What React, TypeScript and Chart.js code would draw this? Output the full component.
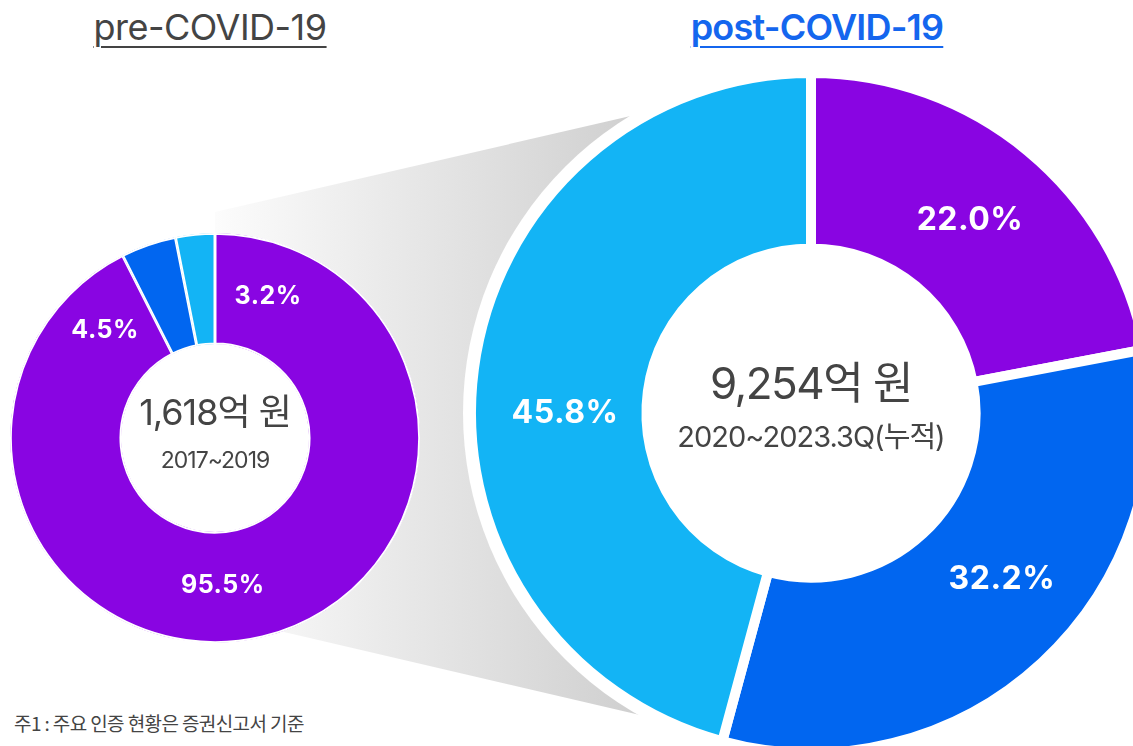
import React, { useEffect, useRef } from "react";
import { Chart, registerables } from "chart.js";

Chart.register(...registerables);

// ---- data ----
const sliceNames = ["구분 A", "구분 B", "구분 C"];
const preValues = [95.5, 4.5, 3.2];
const postValues = [22.0, 32.2, 45.8];
const sliceColors = ["#8905E2", "#0166F0", "#13B4F5"];

const preTitle = "pre-COVID-19";
const postTitle = "post-COVID-19";
const preCenter = ["1,618억 원", "2017~2019"];
const postCenter = ["9,254억 원", "2020~2023.3Q(누적)"];
const footnote = "주1 : 주요 인증 현황은 증권신고서 기준";

const FONT = "Inter, 'Noto Sans CJK KR', 'Noto Sans', sans-serif";
const KFONT = "'Noto Sans CJK KR', 'Noto Sans', sans-serif";

const sliceLabelPlugin = {
  id: "sliceLabels",
  afterDatasetsDraw(chart: any, _args: any, opts: any) {
    const meta = chart.getDatasetMeta(0);
    const ds = chart.data.datasets[0];
    const ctx = chart.ctx as CanvasRenderingContext2D;
    ctx.save();
    ctx.fillStyle = opts.color || "#fff";
    ctx.font = opts.font;
    ctx.textAlign = "center";
    ctx.textBaseline = "middle";
    (ctx as any).letterSpacing = opts.letterSpacing || "0px";
    meta.data.forEach((arc: any, i: number) => {
      const { x, y } = arc.getProps(["x", "y"], true);
      const p = opts.positions[i];
      const a = (p.angle * Math.PI) / 180;
      ctx.fillText(Number(ds.data[i]).toFixed(1) + "%", x + p.r * Math.sin(a), y - p.r * Math.cos(a));
    });
    ctx.restore();
  },
};

const centerTextPlugin = {
  id: "centerText",
  beforeDatasetsDraw(chart: any) {
    const meta = chart.getDatasetMeta(0);
    if (!meta.data.length) return;
    const { x, y, innerRadius } = meta.data[0].getProps(["x", "y", "innerRadius"], true);
    const ctx = chart.ctx as CanvasRenderingContext2D;
    ctx.save();
    ctx.fillStyle = "#ffffff";
    ctx.beginPath();
    ctx.arc(x, y, innerRadius + 2, 0, Math.PI * 2);
    ctx.fill();
    ctx.restore();
  },
  afterDatasetsDraw(chart: any, _args: any, opts: any) {
    const meta = chart.getDatasetMeta(0);
    if (!meta.data.length) return;
    const { x, y } = meta.data[0].getProps(["x", "y"], true);
    const ctx = chart.ctx as CanvasRenderingContext2D;
    ctx.save();
    ctx.fillStyle = opts.color || "#444";
    ctx.textAlign = "center";
    ctx.textBaseline = "middle";
    (opts.lines || []).forEach((l: any) => {
      ctx.font = l.font;
      (ctx as any).letterSpacing = l.letterSpacing || "0px";
      ctx.fillText(l.text, x, y + l.dy);
    });
    ctx.restore();
  },
};

function Donut(props: {
  values: number[];
  size: number;
  radius: number;
  cutout: number;
  borderWidth: number;
  borderAlign: "center" | "inner";
  labelFont: string;
  labelSpacing: string;
  positions: { angle: number; r: number }[];
  center: any[];
  style: React.CSSProperties;
}) {
  const ref = useRef<HTMLCanvasElement | null>(null);
  useEffect(() => {
    if (!ref.current) return;
    const chart = new Chart(ref.current, {
      type: "doughnut",
      data: {
        labels: sliceNames,
        datasets: [
          {
            data: props.values,
            backgroundColor: sliceColors,
            borderColor: "#ffffff",
            borderWidth: props.borderWidth,
            borderAlign: props.borderAlign,
          } as any,
        ],
      },
      options: {
        animation: false,
        responsive: false,
        maintainAspectRatio: false,
        radius: props.radius,
        cutout: props.cutout,
        layout: { padding: 0 },
        plugins: {
          legend: { display: false },
          tooltip: { enabled: false },
          sliceLabels: {
            font: props.labelFont,
            letterSpacing: props.labelSpacing,
            color: "#ffffff",
            positions: props.positions,
          },
          centerText: { color: "#444444", lines: props.center },
        } as any,
      } as any,
      plugins: [sliceLabelPlugin, centerTextPlugin],
    });
    return () => chart.destroy();
  }, []);
  return (
    <canvas
      ref={ref}
      width={props.size}
      height={props.size}
      style={{ position: "absolute", width: props.size, height: props.size, ...props.style }}
    />
  );
}

export default function App() {
  return (
    <div
      style={{
        position: "fixed",
        left: 0,
        top: 0,
        width: 1133,
        height: 746,
        overflow: "hidden",
        background: "#ffffff",
        fontFamily: FONT,
      }}
    >
      <svg width={1133} height={746} style={{ position: "absolute", left: 0, top: 0 }}>
        <defs>
          <linearGradient id="funnelGrad" x1="215" y1="0" x2="640" y2="0" gradientUnits="userSpaceOnUse">
            <stop offset="0" stopColor="#fcfcfc" />
            <stop offset="1" stopColor="#cfcfcf" />
          </linearGradient>
          <mask id="funnelMask">
            <rect x="0" y="0" width="1133" height="746" fill="white" />
            <circle cx="811" cy="413" r="348" fill="black" />
          </mask>
        </defs>
        <polygon points="215,212 700,100 700,729 215,616" fill="url(#funnelGrad)" mask="url(#funnelMask)" />
      </svg>

      <Donut
        values={preValues}
        size={420}
        radius={205}
        cutout={96}
        borderWidth={1.5}
        borderAlign="inner"
        labelFont={`700 25px ${FONT}`}
        labelSpacing="0.5px"
        positions={[
          { angle: 177, r: 148 },
          { angle: -45.5, r: 154 },
          { angle: 20.6, r: 151 },
        ]}
        center={[
          { text: preCenter[0], font: `400 36px ${FONT}`, dy: -24, letterSpacing: "-1px" },
          { text: preCenter[1], font: `400 23px ${FONT}`, dy: 23, letterSpacing: "-1px" },
        ]}
        style={{ left: 5, top: 228 }}
      />

      <Donut
        values={postValues}
        size={700}
        radius={340}
        cutout={167}
        borderWidth={10}
        borderAlign="center"
        labelFont={`700 32px ${FONT}`}
        labelSpacing="0.5px"
        positions={[
          { angle: 39.5, r: 250 },
          { angle: 131, r: 253 },
          { angle: 270, r: 246 },
        ]}
        center={[
          { text: postCenter[0], font: `400 44px ${FONT}`, dy: -27, letterSpacing: "-1.5px" },
          { text: postCenter[1], font: `400 29px ${FONT}`, dy: 25, letterSpacing: "-1px" },
        ]}
        style={{ left: 461, top: 63 }}
      />

      <div
        style={{
          position: "absolute",
          left: 60,
          top: 5,
          width: 300,
          textAlign: "center",
          fontSize: 36,
          lineHeight: "44px",
          color: "#444444",
          textDecoration: "underline",
          textUnderlineOffset: "6px",
          textDecorationThickness: "2px",
          letterSpacing: "-0.5px",
        }}
      >
        {preTitle}
      </div>
      <div
        style={{
          position: "absolute",
          left: 667,
          top: 5,
          width: 300,
          textAlign: "center",
          fontSize: 36,
          lineHeight: "44px",
          fontWeight: 600,
          color: "#1466EE",
          textDecoration: "underline",
          textUnderlineOffset: "6px",
          textDecorationThickness: "2px",
          letterSpacing: "-0.8px",
        }}
      >
        {postTitle}
      </div>

      <div
        style={{
          position: "absolute",
          left: 14,
          top: 709,
          fontFamily: KFONT,
          fontSize: 19,
          lineHeight: "28px",
          color: "#444444",
          letterSpacing: "-0.6px",
          whiteSpace: "nowrap",
        }}
      >
        {footnote}
      </div>
    </div>
  );
}
